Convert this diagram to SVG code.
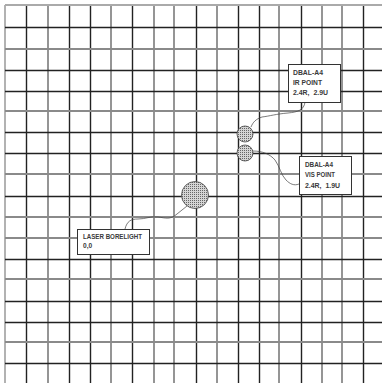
<svg xmlns="http://www.w3.org/2000/svg" width="382" height="383" viewBox="0 0 382 383">
<style>
.d{stroke:#222;stroke-width:1.4}
.g{stroke:#8a8a8a;stroke-width:1.8}
.box{fill:#fff;stroke:#333;stroke-width:1}
.lbl{font-family:"Liberation Sans","DejaVu Sans",sans-serif;font-size:6.6px;font-weight:bold;fill:#3a3a3a}
.pt{fill:url(#dots);stroke:#444;stroke-width:0.8}
.con{fill:none;stroke:#444;stroke-width:0.7}
</style>
<defs>
<pattern id="dots" width="2" height="2" patternUnits="userSpaceOnUse">
<rect width="2" height="2" fill="#d4d4d4"/>
<rect width="1" height="1" fill="#666"/>
</pattern>
</defs>
<rect width="382" height="383" fill="#fff"/>
<g id="grid">
<line class="g" x1="5" y1="5" x2="5" y2="383" style="stroke:#aaa"/>
<line class="d" x1="26.5" y1="5" x2="26.5" y2="383"/>
<line class="g" x1="48" y1="5" x2="48" y2="383"/>
<line class="d" x1="69.5" y1="5" x2="69.5" y2="383"/>
<line class="d" x1="90.5" y1="5" x2="90.5" y2="383"/>
<line class="g" x1="111" y1="5" x2="111" y2="383"/>
<line class="d" x1="132.5" y1="5" x2="132.5" y2="383"/>
<line class="g" x1="154" y1="5" x2="154" y2="383"/>
<line class="g" x1="174" y1="5" x2="174" y2="383"/>
<line class="d" x1="196.5" y1="5" x2="196.5" y2="383"/>
<line class="g" x1="217" y1="5" x2="217" y2="383"/>
<line class="d" x1="238.5" y1="5" x2="238.5" y2="383"/>
<line class="d" x1="259.5" y1="5" x2="259.5" y2="383"/>
<line class="g" x1="279" y1="5" x2="279" y2="383"/>
<line class="d" x1="301.5" y1="5" x2="301.5" y2="383"/>
<line class="g" x1="322" y1="5" x2="322" y2="383"/>
<line class="g" x1="342" y1="5" x2="342" y2="383"/>
<line class="d" x1="363.5" y1="5" x2="363.5" y2="383"/>
<line class="g" x1="5" y1="5" x2="382" y2="5" style="stroke:#aaa"/>
<line class="d" x1="5" y1="27.5" x2="382" y2="27.5"/>
<line class="g" x1="5" y1="49" x2="382" y2="49"/>
<line class="d" x1="5" y1="70.5" x2="382" y2="70.5"/>
<line class="d" x1="5" y1="91.5" x2="382" y2="91.5"/>
<line class="g" x1="5" y1="111" x2="382" y2="111"/>
<line class="d" x1="5" y1="132.5" x2="382" y2="132.5"/>
<line class="d" x1="5" y1="153.5" x2="382" y2="153.5"/>
<line class="g" x1="5" y1="174" x2="382" y2="174"/>
<line class="d" x1="5" y1="196.5" x2="382" y2="196.5"/>
<line class="g" x1="5" y1="217" x2="382" y2="217"/>
<line class="g" x1="5" y1="238" x2="382" y2="238"/>
<line class="d" x1="5" y1="259.5" x2="382" y2="259.5"/>
<line class="g" x1="5" y1="279" x2="382" y2="279"/>
<line class="d" x1="5" y1="301.5" x2="382" y2="301.5"/>
<line class="d" x1="5" y1="322.5" x2="382" y2="322.5"/>
<line class="g" x1="5" y1="342" x2="382" y2="342"/>
<line class="d" x1="5" y1="363.5" x2="382" y2="363.5"/>
</g>
<g id="connectors">
<path class="con" d="M125,229 C127,221 131,219 138,219 C146,219 150,216 158,217 C166,218 170,220 177,214 L187,206"/>
<path class="con" d="M305,102 C304,110 298,112 288,113 C276,114 270,116 262,117 C256,119 253,122 251,127"/>
<path class="con" d="M253,151 C262,151 270,154 275,160 C280,167 281,175 286,180 C290,184 294,186 299,184"/>
</g>
<g id="laser-point"><circle class="pt" cx="195" cy="195" r="13.5"/></g>
<g id="ir-point"><circle class="pt" cx="245" cy="134" r="8"/></g>
<g id="vis-point"><circle class="pt" cx="245" cy="153" r="8"/></g>
<g id="laser-label">
<rect class="box" x="77.5" y="229.5" width="72" height="25"/>
<text class="lbl" x="83" y="238.5" textLength="59" lengthAdjust="spacingAndGlyphs">LASER BORELIGHT</text>
<text class="lbl" x="83" y="247.5">0,0</text>
</g>
<g id="ir-label">
<rect class="box" x="288.5" y="64.5" width="52" height="38"/>
<text class="lbl" x="293" y="74.5" textLength="30" lengthAdjust="spacingAndGlyphs">DBAL-A4</text>
<text class="lbl" x="293" y="84.5" textLength="29" lengthAdjust="spacingAndGlyphs">IR POINT</text>
<text class="lbl" x="293" y="94.5" textLength="35" lengthAdjust="spacingAndGlyphs">2.4R,&#160; 2.9U</text>
</g>
<g id="vis-label">
<rect class="box" x="299.5" y="156.5" width="52" height="38"/>
<text class="lbl" x="305" y="166.5" textLength="28" lengthAdjust="spacingAndGlyphs">DBAL-A4</text>
<text class="lbl" x="305" y="176.5" textLength="30" lengthAdjust="spacingAndGlyphs">VIS POINT</text>
<text class="lbl" x="305" y="187.5" textLength="35" lengthAdjust="spacingAndGlyphs">2.4R,&#160; 1.9U</text>
</g>
</svg>
